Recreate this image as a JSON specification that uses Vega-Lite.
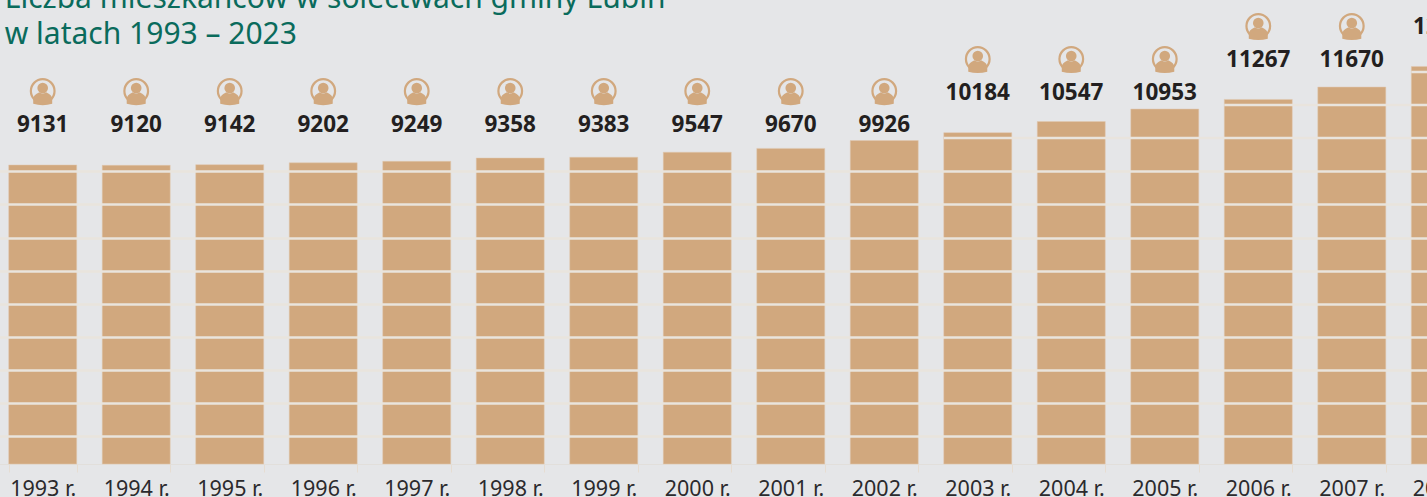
{
"$schema":"https://vega.github.io/schema/vega-lite/v6.json",
"autosize":{"type":"none"},
"padding":{"left":0,"top":47,"right":0,"bottom":33},
"width":1427,"height":417,
"background":"#e5e6e8",
"config":{"view":{"stroke":null}},
"datasets":{
"rows":[
{"rok":"1993 r.","liczba":9131,"poziom":10433},
{"rok":"1994 r.","liczba":9120,"poziom":10433},
{"rok":"1995 r.","liczba":9142,"poziom":10433},
{"rok":"1996 r.","liczba":9202,"poziom":10433},
{"rok":"1997 r.","liczba":9249,"poziom":10433},
{"rok":"1998 r.","liczba":9358,"poziom":10433},
{"rok":"1999 r.","liczba":9383,"poziom":10433},
{"rok":"2000 r.","liczba":9547,"poziom":10433},
{"rok":"2001 r.","liczba":9670,"poziom":10433},
{"rok":"2002 r.","liczba":9926,"poziom":10433},
{"rok":"2003 r.","liczba":10184,"poziom":11476},
{"rok":"2004 r.","liczba":10547,"poziom":11476},
{"rok":"2005 r.","liczba":10953,"poziom":11476},
{"rok":"2006 r.","liczba":11267,"poziom":12551},
{"rok":"2007 r.","liczba":11670,"poziom":12551},
{"rok":"2008 r.","liczba":12340,"poziom":13626}
],
"upper":[
{"wartosc":10010,"od":"2003 r.","do":"2008 r."},
{"wartosc":11085,"od":"2006 r.","do":"2008 r."},
{"wartosc":12160,"od":"2008 r.","do":"2008 r."}
],
"tytul":[
{"tekst":"Liczba mieszkańców w sołectwach gminy Lubin","rok":"1993 r.","poziom":14245},
{"tekst":"w latach 1993 – 2023","rok":"1993 r.","poziom":13072}
]
},
"data":{"name":"rows"},
"layer":[
{"mark":{"type":"bar","color":"#d1a87e","stroke":"#e0c9b0","strokeWidth":0.5},
"encoding":{
"x":{"field":"rok","type":"nominal","sort":null,"title":null,
"scale":{"range":[-4,1492],"paddingInner":0.273,"paddingOuter":0.136},
"axis":{"labelAngle":0,"labelFont":"Noto Sans","labelFontSize":21.5,"labelColor":"#2b2a2d","labelPadding":6,"labelOverlap":false,"labelLimit":0,"tickColor":"#e6ddd2","tickSize":8,"tickBand":"extent","domainColor":"#e2dfdb","grid":false}},
"y":{"field":"liczba","type":"quantitative","title":null,
"scale":{"domain":[-609,14505],"range":[417,-47],"nice":false,"zero":false},
"axis":{"values":[303,1375,2453,3528,4603,5678,6753,7844,8935],"labels":false,"ticks":false,"domain":false,"grid":true,"gridColor":"#e9e4dd","gridWidth":2.4,"zindex":1}},
"y2":{"datum":-609}}},
{"data":{"name":"upper"},"mark":{"type":"rule","color":"#e9e4dd","strokeWidth":2.4},
"encoding":{
"x":{"field":"od","type":"nominal","sort":null,"bandPosition":0},
"x2":{"field":"do"},
"y":{"field":"wartosc","type":"quantitative"}}},
{"data":{"name":"tytul"},"mark":{"type":"text","font":"Noto Sans","fontSize":30,"color":"#0a6b5c","align":"left","baseline":"alphabetic","dx":-38},
"encoding":{
"x":{"field":"rok","type":"nominal","sort":null},
"y":{"field":"poziom","type":"quantitative"},
"text":{"field":"tekst","type":"nominal"}}},
{"mark":{"type":"text","font":"Noto Sans","fontWeight":"bold","fontSize":22.5,"color":"#231f20","baseline":"middle"},
"encoding":{
"x":{"field":"rok","type":"nominal","sort":null},
"y":{"field":"poziom","type":"quantitative"},
"text":{"field":"liczba","type":"quantitative","format":"d"}}},
{"mark":{"type":"point","shape":"circle","filled":false,"color":"#d1a87e","strokeWidth":2.2,"size":560,"opacity":1,"yOffset":-34},
"encoding":{
"x":{"field":"rok","type":"nominal","sort":null},
"y":{"field":"poziom","type":"quantitative"}}},
{"mark":{"type":"point","shape":"circle","filled":true,"color":"#d1a87e","size":113,"opacity":1,"yOffset":-37},
"encoding":{
"x":{"field":"rok","type":"nominal","sort":null},
"y":{"field":"poziom","type":"quantitative"}}},
{"mark":{"type":"point","shape":"M-1,0.6 L-1,0.1 Q-1,-0.3 -0.35,-0.6 Q0,-0.35 0.35,-0.6 Q1,-0.3 1,0.1 L1,0.6 Q0,0.9 -1,0.6 Z","filled":true,"color":"#d1a87e","size":361,"opacity":1,"yOffset":-27},
"encoding":{
"x":{"field":"rok","type":"nominal","sort":null},
"y":{"field":"poziom","type":"quantitative"}}}
]
}
